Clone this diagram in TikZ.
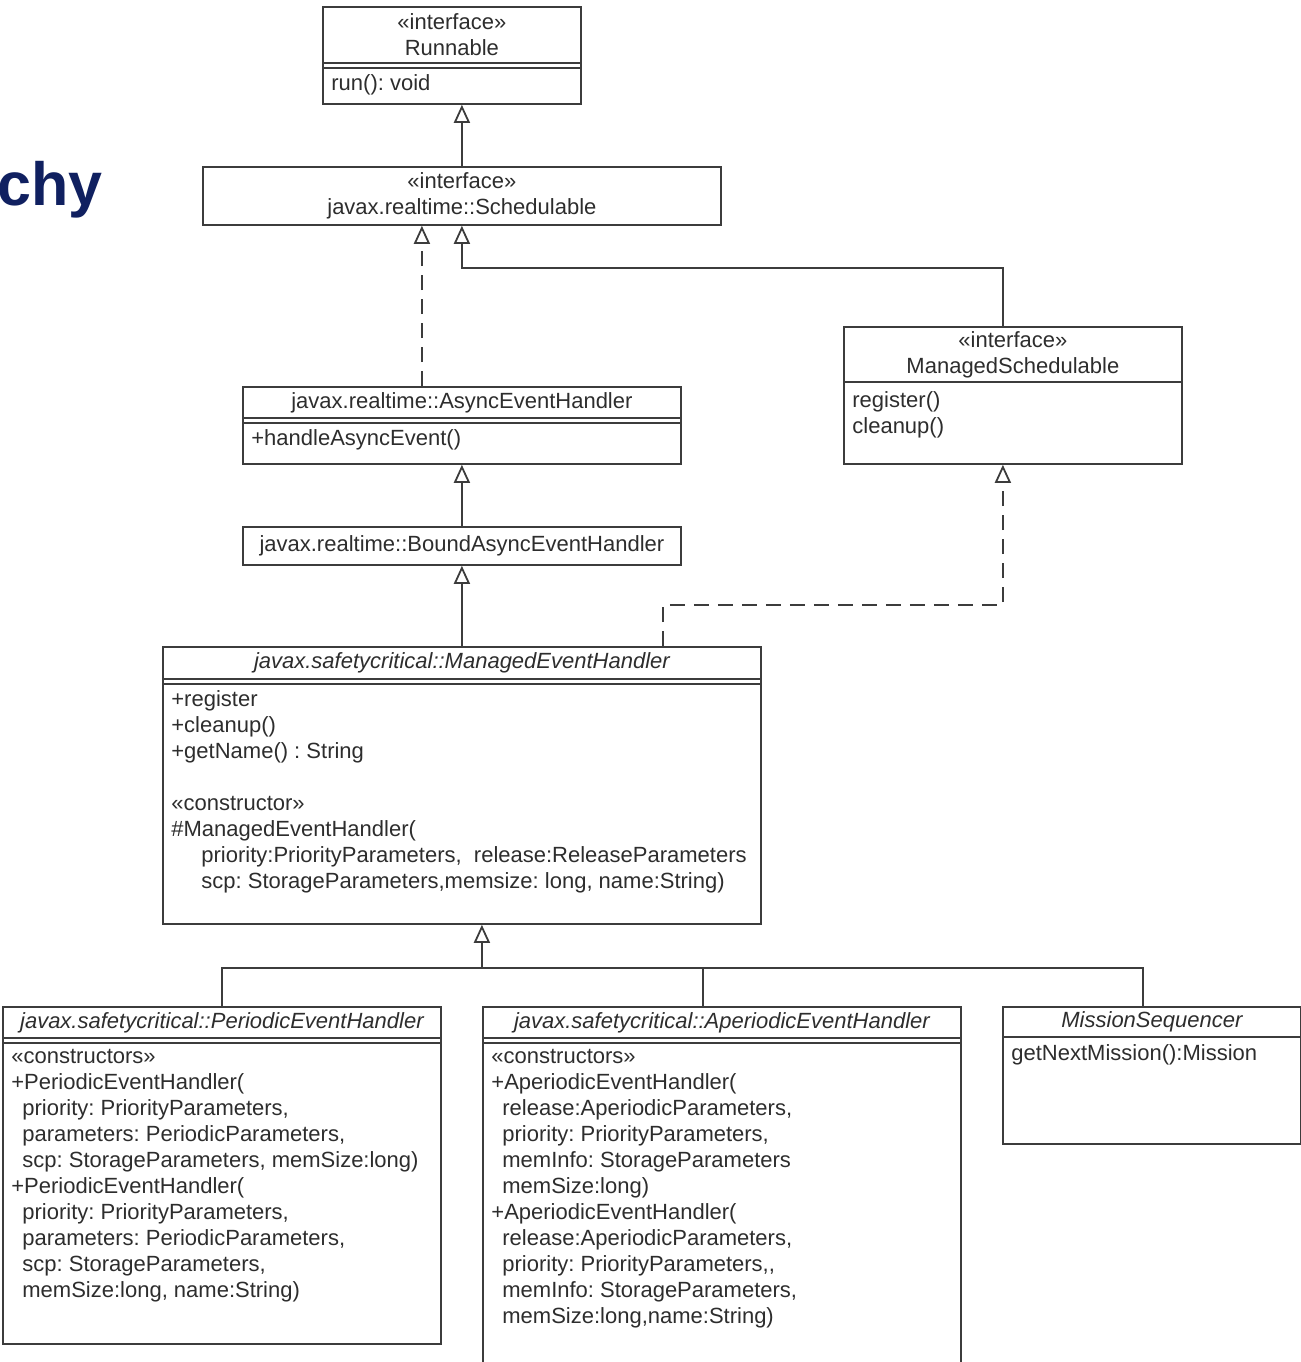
\documentclass[tikz,border=0pt]{standalone}
\usepackage{fontspec}
\setmainfont{Liberation Sans}
\usetikzlibrary{arrows.meta,positioning}

\definecolor{umlline}{RGB}{60,60,60}
\definecolor{umltext}{RGB}{45,45,45}
\definecolor{slidenavy}{RGB}{16,32,96}
\newcommand{\umlfont}{\fontsize{11}{13}\selectfont\frenchspacing}

\tikzset{
  frame/.style={draw=umlline, line width=0.9pt, inner sep=0pt, anchor=north west},
  head/.style={draw=umlline, line width=0.9pt, inner sep=0pt, align=center, anchor=north, font=\umlfont, text=umltext},
  members/.style={inner xsep=4.5pt, inner ysep=3pt, align=left, anchor=north west, font=\umlfont, text=umltext},
  rule/.style={draw=umlline, line width=0.9pt},
  inherit/.style={rule, -{Triangle[open,width=8pt,length=9pt]}},
  realize/.style={inherit, dash pattern=on 7.5pt off 4.5pt},
}

\begin{document}
\begin{tikzpicture}[x=0.5pt,y=-0.5pt]
\useasboundingbox (0,0) rectangle (1301,1362);
\clip (0,0) rectangle (1301,1362);

% slide title (cut off)
\node[font=\fontsize{30.5}{30}\selectfont\bfseries, text=slidenavy, inner sep=0pt, anchor=base west] (slide) at (-3,205) {chy};

% Runnable
\node[frame, minimum width=129pt, minimum height=48.5pt] (run) at (322,6) {};
\node[head, minimum width=129pt, minimum height=28pt] (run-h) at (run.north) {«interface»\\Runnable};
\draw[rule] ([yshift=-2pt]run-h.south west) -- ([yshift=-2pt]run-h.south east);
\node[members] (run-m) at ([yshift=-2pt]run-h.south west) {run(): void};

% Schedulable
\node[frame, minimum width=259pt, minimum height=29pt, align=center, font=\umlfont, text=umltext] (sched) at (202,166) {«interface»\\javax.realtime::Schedulable};

% ManagedSchedulable
\node[frame, minimum width=169pt, minimum height=68.5pt] (msch) at (843,326) {};
\node[head, minimum width=169pt, minimum height=27.5pt] (msch-h) at (msch.north) {«interface»\\ManagedSchedulable};
\node[members] (msch-m) at ([yshift=-1pt]msch-h.south west) {register()\\cleanup()};

% AsyncEventHandler
\node[frame, minimum width=219pt, minimum height=38.5pt] (async) at (242,386) {};
\node[head, minimum width=219pt, minimum height=15.5pt] (async-h) at (async.north) {javax.realtime::AsyncEventHandler};
\draw[rule] ([yshift=-2pt]async-h.south west) -- ([yshift=-2pt]async-h.south east);
\node[members] (async-m) at ([yshift=-2pt]async-h.south west) {+handleAsyncEvent()};

% BoundAsyncEventHandler
\node[frame, minimum width=219pt, minimum height=19pt, font=\umlfont, text=umltext] (bound) at (242,526) {javax.realtime::BoundAsyncEventHandler};

% ManagedEventHandler
\node[frame, minimum width=299pt, minimum height=138.5pt] (meh) at (162,646) {};
\node[head, minimum width=299pt, minimum height=16pt, font=\umlfont\itshape] (meh-h) at (meh.north) {javax.safetycritical::ManagedEventHandler};
\draw[rule] ([yshift=-2pt]meh-h.south west) -- ([yshift=-2pt]meh-h.south east);
\node[members] (meh-m) at ([yshift=-2pt]meh-h.south west) {+register\\+cleanup()\\+getName() : String\\[13pt]«constructor»\\\#ManagedEventHandler(\\
  \hspace*{15pt}priority:PriorityParameters,\ \ release:ReleaseParameters\\
  \hspace*{15pt}scp: StorageParameters,memsize: long, name:String)};

% PeriodicEventHandler
\node[frame, minimum width=219pt, minimum height=168.5pt] (per) at (2,1006) {};
\node[head, minimum width=219pt, minimum height=15.5pt, font=\umlfont\itshape] (per-h) at (per.north) {javax.safetycritical::PeriodicEventHandler};
\draw[rule] ([yshift=-2pt]per-h.south west) -- ([yshift=-2pt]per-h.south east);
\node[members] (per-m) at ([yshift=-2pt]per-h.south west) {«constructors»\\+PeriodicEventHandler(\\
  \hspace*{5.5pt}priority: PriorityParameters,\\
  \hspace*{5.5pt}parameters: PeriodicParameters,\\
  \hspace*{5.5pt}scp: StorageParameters, memSize:long)\\+PeriodicEventHandler(\\
  \hspace*{5.5pt}priority: PriorityParameters,\\
  \hspace*{5.5pt}parameters: PeriodicParameters,\\
  \hspace*{5.5pt}scp: StorageParameters,\\
  \hspace*{5.5pt}memSize:long, name:String)};

% AperiodicEventHandler
\node[frame, minimum width=239pt, minimum height=185pt] (aper) at (482,1006) {};
\node[head, minimum width=239pt, minimum height=15.5pt, font=\umlfont\itshape] (aper-h) at (aper.north) {javax.safetycritical::AperiodicEventHandler};
\draw[rule] ([yshift=-2pt]aper-h.south west) -- ([yshift=-2pt]aper-h.south east);
\node[members] (aper-m) at ([yshift=-2pt]aper-h.south west) {«constructors»\\+AperiodicEventHandler(\\
  \hspace*{5.5pt}release:AperiodicParameters,\\
  \hspace*{5.5pt}priority: PriorityParameters,\\
  \hspace*{5.5pt}memInfo: StorageParameters\\
  \hspace*{5.5pt}memSize:long)\\+AperiodicEventHandler(\\
  \hspace*{5.5pt}release:AperiodicParameters,\\
  \hspace*{5.5pt}priority: PriorityParameters,{},\\
  \hspace*{5.5pt}memInfo: StorageParameters,\\
  \hspace*{5.5pt}memSize:long,name:String)};

% MissionSequencer
\node[frame, minimum width=149pt, minimum height=68.5pt] (seq) at (1002,1006) {};
\node[head, minimum width=149pt, minimum height=15pt, font=\umlfont\itshape] (seq-h) at (seq.north) {MissionSequencer};
\node[members] (seq-m) at (seq-h.south west) {getNextMission():Mission};

% generalisations and realisations
\draw[inherit] (sched.north) -- (sched.north |- run.south);
\draw[realize] ([xshift=-20pt]async.north) -- ([xshift=-20pt]async.north |- sched.south);
\draw[inherit] ([xshift=-5pt]msch.north) |- ([yshift=-21pt]sched.south) -- (sched.south);
\draw[inherit] (bound.north) -- (async.south);
\draw[inherit] (meh.north) -- (bound.south);
\draw[realize] ([xshift=100.5pt]meh.north) -- ++(0,-41) -| ([xshift=-5pt]msch.south);

% bus to the subclasses
\coordinate (bus) at ([xshift=10pt,yshift=-21.5pt]meh.south);
\draw[rule] (per.north) |- ([xshift=-4.5pt]seq.north |- bus) -- ([xshift=-4.5pt]seq.north);
\draw[rule] ([xshift=-9.5pt]aper.north) -- ([xshift=-9.5pt]aper.north |- bus);
\draw[inherit] (bus) -- (bus |- meh.south);

\end{tikzpicture}
\end{document}
